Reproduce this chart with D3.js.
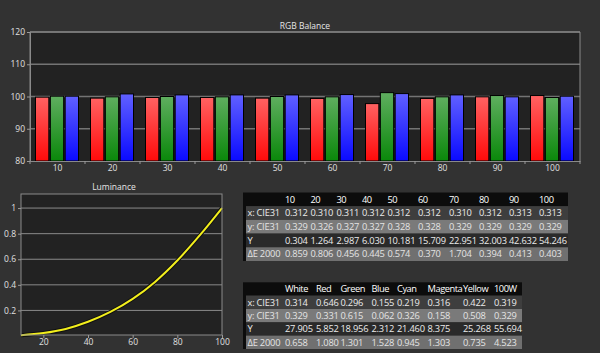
<!DOCTYPE html>
<html>
<head>
<meta charset="utf-8">
<script src="https://cdn.jsdelivr.net/npm/d3@7"></script>
<style>
  body { margin: 0; background: #323232; }
  svg { display: block; }
  text { font-family: "Open Sans", sans-serif; }
</style>
</head>
<body>
<svg id="chart" width="600" height="353"></svg>
<script>
// RGB balance per stimulus level
const levels = [10, 20, 30, 40, 50, 60, 70, 80, 90, 100];
const redVals = [99.8, 99.5, 99.7, 99.7, 99.5, 99.4, 97.8, 99.4, 99.9, 100.3];
const greenVals = [100.1, 99.9, 100.0, 99.9, 100.0, 99.9, 101.2, 99.9, 100.3, 99.7];
const blueVals = [100.1, 100.8, 100.5, 100.5, 100.5, 100.6, 100.9, 100.5, 99.9, 100.1];
const balanceTicks = [80, 90, 100, 110, 120];

// luminance curve (normalised Y)
const lumX = [10, 20, 30, 40, 50, 60, 70, 80, 90, 100];
const lumY = [0.006, 0.023, 0.055, 0.111, 0.188, 0.290, 0.423, 0.590, 0.786, 1.0];
const lumYTicks = [0.2, 0.4, 0.6, 0.8, 1];
const lumXTicks = [20, 40, 60, 80, 100];

// greyscale table
const greyHeader = ['10', '20', '30', '40', '50', '60', '70', '80', '90', '100'];
const rowLabels = ['x: CIE31', 'y: CIE31', 'Y', 'ΔE 2000'];
const greyX = ['0.312', '0.310', '0.311', '0.312', '0.312', '0.312', '0.310', '0.312', '0.313', '0.313'];
const greyY = ['0.329', '0.326', '0.327', '0.327', '0.328', '0.328', '0.329', '0.329', '0.329', '0.329'];
const greyLum = ['0.304', '1.264', '2.987', '6.030', '10.181', '15.709', '22.951', '32.003', '42.632', '54.246'];
const greyDE = ['0.859', '0.806', '0.456', '0.445', '0.574', '0.370', '1.704', '0.394', '0.413', '0.403'];

// colour table
const colorHeader = ['White', 'Red', 'Green', 'Blue', 'Cyan', 'Magenta', 'Yellow', '100W'];
const colorX = ['0.314', '0.646', '0.296', '0.155', '0.219', '0.316', '0.422', '0.319'];
const colorY = ['0.329', '0.331', '0.615', '0.062', '0.326', '0.158', '0.508', '0.329'];
const colorLum = ['27.905', '5.852', '18.956', '2.312', '21.460', '8.375', '25.268', '55.694'];
const colorDE = ['0.658', '1.080', '1.301', '1.528', '0.945', '1.303', '0.735', '4.523'];

const svg = d3.select('#chart');
const defs = svg.append('defs');

// vertical gradients for the bars
const barColors = { r: ['#ff6262', '#ff0a0a'], g: ['#5fae5f', '#0a880a'], b: ['#6060ff', '#0a0aff'] };
Object.entries(barColors).forEach(([k, c]) => {
  const g = defs.append('linearGradient').attr('id', 'grad-' + k)
    .attr('x1', 0).attr('y1', 0).attr('x2', 0).attr('y2', 1);
  g.append('stop').attr('offset', '0%').attr('stop-color', c[0]);
  g.append('stop').attr('offset', '100%').attr('stop-color', c[1]);
});

// ---------- RGB Balance ----------
const bal = { left: 30, right: 580, top: 32, bottom: 161 };
const x = d3.scaleBand().domain(levels).range([bal.left, bal.right]);
const xInner = d3.scaleBand().domain(['r', 'g', 'b']).range([5.5, 48.5]).paddingInner(0.1);
const y = d3.scaleLinear().domain([80, 120]).range([bal.bottom, bal.top]);

svg.append('rect')
  .attr('x', bal.left).attr('y', bal.top)
  .attr('width', bal.right - bal.left).attr('height', bal.bottom - bal.top)
  .attr('fill', '#222');

svg.append('g').selectAll('line').data(balanceTicks.slice(1)).join('line')
  .attr('x1', bal.left).attr('x2', bal.right)
  .attr('y1', d => y(d)).attr('y2', d => y(d))
  .attr('stroke', '#747474').attr('stroke-width', 1.5);

svg.append('text').attr('x', 305).attr('y', 29).attr('text-anchor', 'middle')
  .attr('fill', '#e6e6e6').attr('font-size', 8.5).text('RGB Balance');

const series = [
  { key: 'r', vals: redVals },
  { key: 'g', vals: greenVals },
  { key: 'b', vals: blueVals }
];
const barData = [];
levels.forEach((lv, i) => series.forEach(s => barData.push({ lv, key: s.key, v: s.vals[i] })));

svg.append('g').selectAll('rect').data(barData).join('rect')
  .attr('x', d => x(d.lv) + xInner(d.key))
  .attr('y', d => y(d.v))
  .attr('width', xInner.bandwidth())
  .attr('height', d => y(80) - y(d.v))
  .attr('fill', d => `url(#grad-${d.key})`)
  .attr('stroke', '#000').attr('stroke-width', 1);

// frame
svg.append('path')
  .attr('d', `M${bal.left},${bal.bottom}V${bal.top}H${bal.right}V${bal.bottom}`)
  .attr('fill', 'none').attr('stroke', '#8a8a8a').attr('stroke-width', 1);

const yAxis = svg.append('g').attr('transform', `translate(${bal.left},0)`)
  .call(d3.axisLeft(y).tickValues(balanceTicks).tickSize(3).tickPadding(2));
const xAxis = svg.append('g').attr('transform', `translate(0,${bal.bottom})`)
  .call(d3.axisBottom(x).tickSize(0).tickPadding(4));
// boundary ticks between bands
svg.append('g').selectAll('line').data(levels.concat(['end'])).join('line')
  .attr('x1', d => d === 'end' ? bal.right : x(d)).attr('x2', d => d === 'end' ? bal.right : x(d))
  .attr('y1', bal.bottom).attr('y2', bal.bottom + 3)
  .attr('stroke', '#9a9a9a');

[yAxis, xAxis].forEach(a => {
  a.selectAll('.domain').attr('stroke', '#8a8a8a');
  a.selectAll('.tick line').attr('stroke', '#9a9a9a');
  a.selectAll('text').attr('fill', '#e0e0e0').attr('font-size', 8.5)
    .attr('font-family', '"Open Sans", sans-serif');
});

// ---------- Luminance ----------
const lum = { left: 21, right: 222, top: 194, bottom: 335 };
const lx = d3.scaleLinear().domain([10, 100]).range([lum.left, lum.right]);
const ly = d3.scaleLinear().domain([0, 1.11]).range([lum.bottom + 1, lum.top]);

svg.append('rect')
  .attr('x', lum.left).attr('y', lum.top)
  .attr('width', lum.right - lum.left).attr('height', lum.bottom - lum.top)
  .attr('fill', '#222');

svg.append('g').selectAll('line').data(lumYTicks).join('line')
  .attr('x1', lum.left).attr('x2', lum.right)
  .attr('y1', d => ly(d)).attr('y2', d => ly(d))
  .attr('stroke', '#8a8a8a').attr('stroke-width', 1);

svg.append('text').attr('x', 114).attr('y', 190).attr('text-anchor', 'middle')
  .attr('fill', '#e6e6e6').attr('font-size', 8.5).text('Luminance');

const line = d3.line().x((d, i) => lx(lumX[i])).y(d => ly(d)).curve(d3.curveMonotoneX);
svg.append('path').datum(lumY).attr('d', line)
  .attr('fill', 'none').attr('stroke', '#111').attr('stroke-width', 4);
svg.append('path').datum(lumY).attr('d', line)
  .attr('fill', 'none').attr('stroke', '#f2ee1c').attr('stroke-width', 2);

svg.append('rect')
  .attr('x', lum.left).attr('y', lum.top)
  .attr('width', lum.right - lum.left).attr('height', lum.bottom - lum.top)
  .attr('fill', 'none').attr('stroke', '#8a8a8a');

const lyAxis = svg.append('g').attr('transform', `translate(${lum.left},0)`)
  .call(d3.axisLeft(ly).tickValues(lumYTicks).tickFormat(d3.format('~g')).tickSize(3).tickPadding(2));
const lxAxis = svg.append('g').attr('transform', `translate(0,${lum.bottom})`)
  .call(d3.axisBottom(lx).tickValues(lumXTicks).tickSize(3).tickPadding(1));
[lyAxis, lxAxis].forEach(a => {
  a.selectAll('.domain').remove();
  a.selectAll('.tick line').attr('stroke', '#9a9a9a');
  a.selectAll('text').attr('fill', '#e0e0e0').attr('font-size', 8.5)
    .attr('font-family', '"Open Sans", sans-serif');
});

// ---------- Tables ----------
const rowFills = ['#0c0c0c', '#3e3e3e', '#7a7a7a', '#2a2a2a', '#707070'];
const rowText = ['#ffffff', '#ececec', '#e4e4e4', '#ececec', '#e4e4e4'];

function drawTable(opts) {
  const g = svg.append('g');
  const rows = [opts.header].concat(opts.rows);
  const ry = d3.scaleBand().domain(d3.range(rows.length)).range([opts.top, opts.bottom]);
  const cx = d3.scaleOrdinal().domain(d3.range(opts.header.length)).range(opts.colX);

  g.append('rect').attr('x', opts.left - 3).attr('y', opts.top)
    .attr('width', 3).attr('height', opts.bottom - opts.top).attr('fill', '#0c0c0c');

  const rg = g.selectAll('g.row').data(rows).join('g').attr('class', 'row')
    .attr('transform', (d, i) => `translate(0,${ry(i)})`);
  rg.append('rect').attr('x', opts.left).attr('width', opts.right - opts.left)
    .attr('height', ry.bandwidth()).attr('fill', (d, i) => rowFills[i]);
  rg.append('text').attr('x', opts.left + 1.5).attr('y', ry.bandwidth() / 2 + 3.3)
    .attr('fill', (d, i) => rowText[i]).attr('font-size', 9.3)
    .attr('letter-spacing', -0.2)
    .text((d, i) => i === 0 ? '' : opts.labels[i - 1]);
  rg.selectAll('text.cell').data((d, i) => d.map(v => ({ v, i }))).join('text')
    .attr('class', 'cell')
    .attr('x', (d, j) => cx(j)).attr('y', ry.bandwidth() / 2 + 3.3)
    .attr('fill', d => rowText[d.i]).attr('font-size', 9.3)
    .attr('letter-spacing', d => d.i === 0 ? -0.45 : -0.2)
    .attr('font-weight', d => d.i === 0 ? 500 : 400)
    .text(d => d.v);
}

drawTable({
  header: greyHeader, rows: [greyX, greyY, greyLum, greyDE], labels: rowLabels,
  left: 246, right: 568, top: 192.5, bottom: 261,
  colX: [285, 310.5, 336.5, 362, 387.5, 418, 449, 479, 509, 539]
});

drawTable({
  header: colorHeader, rows: [colorX, colorY, colorLum, colorDE], labels: rowLabels,
  left: 246, right: 522, top: 282.3, bottom: 349,
  colX: [285, 316, 340.5, 371.5, 397, 427.5, 463, 494]
});
</script>
</body>
</html>
